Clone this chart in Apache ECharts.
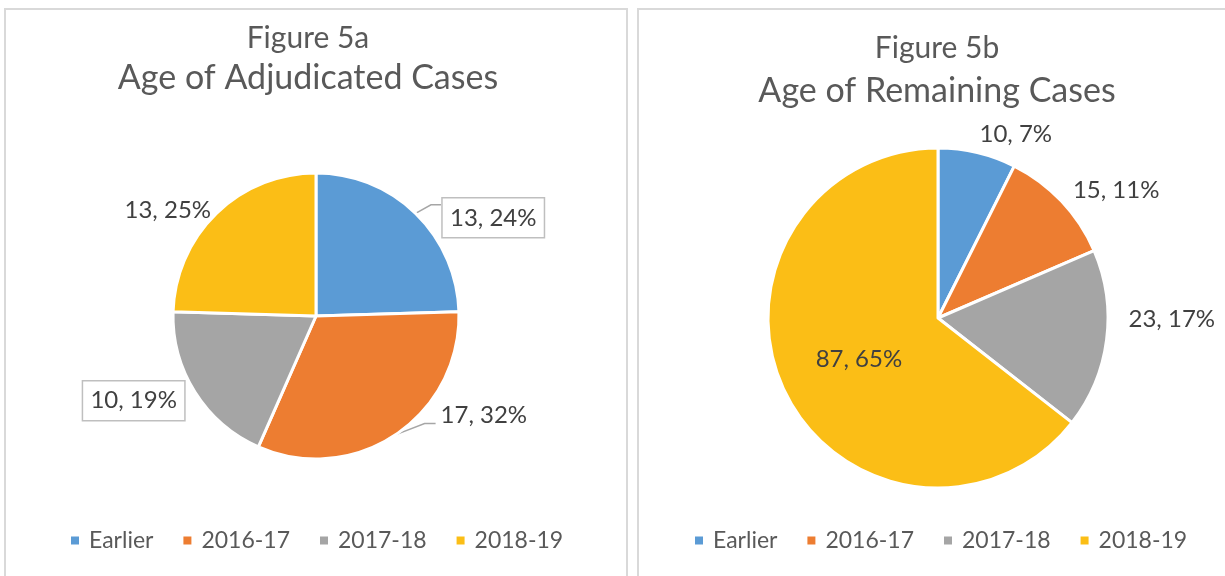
<!DOCTYPE html>
<html>
<head>
<meta charset="utf-8">
<script src="https://cdn.jsdelivr.net/npm/echarts@6/dist/echarts.min.js"></script>
<style>
  html, body { margin: 0; padding: 0; background: #fff; }
  #chart { width: 1225px; height: 576px; }
</style>
</head>
<body>
<div id="chart"></div>
<script>
const categories = ['Earlier', '2016-17', '2017-18', '2018-19']
const colors = ['#5B9BD5', '#ED7D31', '#A5A5A5', '#FBBE16']

// Figure 5a
const adjudicatedCounts = [13, 17, 10, 13]
const adjudicatedPct = [24, 32, 19, 25]
// Figure 5b
const remainingCounts = [10, 15, 23, 87]
const remainingPct = [7, 11, 17, 65]

const FONT = 'Lato, "Open Sans", sans-serif'
const TEXT_COLOR = '#595959'
const LABEL_COLOR = '#404040'

// small nudges from the default outside label spot
const nudgeA = [[3, 13], [23, -29], [15, 2], [18, 5]]
const nudgeB = [[-5, -9], [-1, -4], [7, -22], [0, 3]]
// shift of the bend and end point of the leader lines (left chart)
const lineShiftA = [[[7, 0], [7, 0]], [[22, -21], [23, -21]], null, null]
const boxedA = [true, false, true, false]
const lineA = [true, true, false, false]

const boxStyle = { borderColor: '#BFBFBF', borderWidth: 1.5, padding: [8, 8] }

const chart = echarts.init(document.getElementById('chart'))

const makeTitle = (text, sub, x, top, gap) => ({
  text: text,
  subtext: sub,
  left: x,
  top: top,
  textAlign: 'center',
  padding: 0,
  itemGap: gap,
  textStyle: { fontFamily: FONT, fontSize: 30, lineHeight: 32, fontWeight: 'normal', color: TEXT_COLOR },
  subtextStyle: { fontFamily: FONT, fontSize: 34, lineHeight: 40, color: TEXT_COLOR }
})

const makeLegend = (x) => ({
  data: categories,
  left: x,
  top: 529,
  padding: 0,
  icon: 'path://M0,0H10V10H0Z',
  itemWidth: 18,
  itemHeight: 10,
  itemGap: 28,
  selectedMode: false,
  textStyle: { fontFamily: FONT, fontSize: 23, color: TEXT_COLOR }
})

const shiftLine = (pts, shift) => {
  if (!pts || !shift) return pts
  return pts.map((p, k) => k === 0 ? p : [p[0] + shift[k - 1][0], p[1] + shift[k - 1][1]])
}

const option = {
  animation: false,
  color: colors,
  graphic: [
    { type: 'rect', shape: { x: 5, y: 9, width: 622, height: 600 }, style: { fill: 'none', stroke: '#D9D9D9', lineWidth: 2 } },
    { type: 'rect', shape: { x: 638, y: 9, width: 620, height: 600 }, style: { fill: 'none', stroke: '#D9D9D9', lineWidth: 2 } }
  ],
  title: [
    makeTitle('Figure 5a', 'Age of Adjudicated Cases', 308, 22, 4),
    makeTitle('Figure 5b', 'Age of Remaining Cases', 937, 32, 7)
  ],
  legend: [makeLegend(69), makeLegend(693)],
  series: [
    {
      name: 'Age of Adjudicated Cases',
      type: 'pie',
      center: [316, 316],
      radius: 143,
      startAngle: 90,
      clockwise: true,
      avoidLabelOverlap: false,
      itemStyle: { borderColor: '#fff', borderWidth: 3 },
      label: {
        position: 'outside',
        fontFamily: FONT,
        fontSize: 24,
        color: LABEL_COLOR,
        formatter: p => `${p.value}, ${adjudicatedPct[p.dataIndex]}%`
      },
      labelLine: { length: 12, length2: 10, lineStyle: { color: '#A6A6A6', width: 1.5 } },
      labelLayout: p => ({
        dx: nudgeA[p.dataIndex][0],
        dy: nudgeA[p.dataIndex][1],
        labelLinePoints: shiftLine(p.labelLinePoints, lineShiftA[p.dataIndex])
      }),
      data: categories.map((c, i) => ({
        name: c,
        value: adjudicatedCounts[i],
        label: boxedA[i] ? boxStyle : {},
        labelLine: { show: lineA[i] }
      }))
    },
    {
      name: 'Age of Remaining Cases',
      type: 'pie',
      center: [938, 318],
      radius: 170,
      startAngle: 90,
      clockwise: true,
      avoidLabelOverlap: false,
      itemStyle: { borderColor: '#fff', borderWidth: 3 },
      label: {
        position: 'outside',
        fontFamily: FONT,
        fontSize: 24,
        color: LABEL_COLOR,
        formatter: p => `${p.value}, ${remainingPct[p.dataIndex]}%`
      },
      labelLine: { show: false, length: 10, length2: 0 },
      labelLayout: p => ({ dx: nudgeB[p.dataIndex][0], dy: nudgeB[p.dataIndex][1] }),
      data: categories.map((c, i) => ({
        name: c,
        value: remainingCounts[i],
        label: i === 3 ? { position: 'inside' } : {}
      }))
    }
  ]
}

chart.setOption(option)
</script>
</body>
</html>
